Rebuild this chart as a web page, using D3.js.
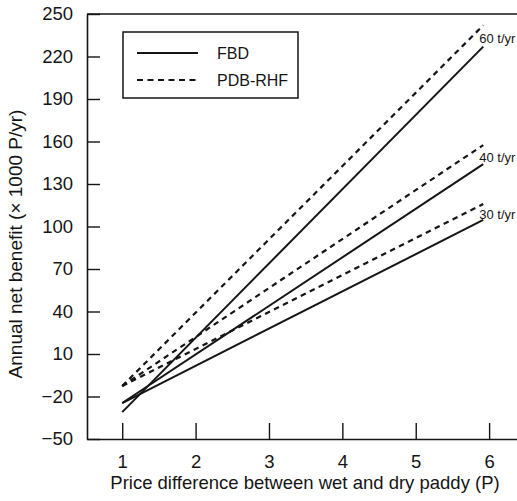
<!DOCTYPE html>
<html>
<head>
<meta charset="utf-8">
<script src="https://cdn.jsdelivr.net/npm/d3@7"></script>
<style>
  html, body { margin: 0; padding: 0; background: #fff; }
  svg { display: block; font-family: "Liberation Sans", Arial, Helvetica, sans-serif; }
</style>
</head>
<body>
<svg id="chart" width="517" height="501"></svg>
<script>
// Annual net benefit of the two dryer types vs. wet/dry paddy price difference
const capacities = ["60 t/yr", "40 t/yr", "30 t/yr"];
const priceRange = [1, 5.92];               // P, start and end of each line
const fbdValues = [[-31, 227], [-24.6, 144], [-24.6, 104.6]];     // × 1000 P/yr
const pdbValues = [[-12.6, 242], [-12.6, 157.5], [-12.6, 115.9]]; // × 1000 P/yr
const xTicks = [1, 2, 3, 4, 5, 6];
const yTicks = [-50, -20, 10, 40, 70, 100, 130, 160, 190, 220, 250];
const legendLabels = ["FBD", "PDB-RHF"];

const svg = d3.select("#chart");
const ink = "#151515";

const x = d3.scaleLinear().domain([0.52, 6.38]).range([87, 517]);
const y = d3.scaleLinear().domain([-50, 250]).range([439, 14]);

// Axes with inward ticks
const yAxis = d3.axisLeft(y).tickValues(yTicks).tickFormat(d3.format("d"))
  .tickSizeInner(-13).tickSizeOuter(0).tickPadding(14);
const xAxis = d3.axisBottom(x).tickValues(xTicks).tickFormat(d3.format("d"))
  .tickSizeInner(-16).tickSizeOuter(0).tickPadding(16);

const gy = svg.append("g").attr("transform", `translate(${x.range()[0]},0)`).call(yAxis);
const gx = svg.append("g").attr("transform", `translate(0,${y.range()[0]})`).call(xAxis);

[gx, gy].forEach(g => {
  g.select(".domain").attr("stroke", ink).attr("stroke-width", 1.6);
  g.selectAll(".tick line").attr("stroke", ink).attr("stroke-width", 1.4);
  g.selectAll(".tick text").attr("fill", ink).attr("font-size", 18.5)
    .attr("font-family", "'Liberation Sans', Arial, sans-serif");
});

// Top frame line
svg.append("line")
  .attr("x1", x.range()[0]).attr("x2", x.range()[1])
  .attr("y1", y(250)).attr("y2", y(250))
  .attr("stroke", ink).attr("stroke-width", 1.6);

// Lines
const line = d3.line().x(d => x(d[0])).y(d => y(d[1]));
const toPts = v => [[priceRange[0], v[0]], [priceRange[1], v[1]]];

svg.append("g").selectAll("path.fbd").data(fbdValues).join("path")
  .attr("class", "fbd")
  .attr("d", v => line(toPts(v)))
  .attr("fill", "none").attr("stroke", ink).attr("stroke-width", 2);

svg.append("g").selectAll("path.pdb").data(pdbValues).join("path")
  .attr("class", "pdb")
  .attr("d", v => line(toPts(v)))
  .attr("fill", "none").attr("stroke", ink).attr("stroke-width", 2.2)
  .attr("stroke-dasharray", "5.5,4.5");

// Capacity labels at the line ends
svg.append("g").selectAll("text").data(capacities).join("text")
  .attr("x", x(priceRange[1]) - 4)
  .attr("y", (d, i) => (y(fbdValues[i][1]) + y(pdbValues[i][1])) / 2)
  .attr("dy", "0.55em")
  .attr("font-size", 13)
  .attr("fill", ink)
  .text(d => d);

// Legend
const lg = svg.append("g");
lg.append("rect")
  .attr("x", 123).attr("y", 32).attr("width", 175).attr("height", 66)
  .attr("fill", "#fff").attr("stroke", ink).attr("stroke-width", 1.5);
legendLabels.forEach((name, i) => {
  const ly = 53 + i * 27;
  lg.append("line")
    .attr("x1", 137).attr("x2", 198).attr("y1", ly).attr("y2", ly)
    .attr("stroke", ink).attr("stroke-width", i === 0 ? 2 : 2.2)
    .attr("stroke-dasharray", i === 0 ? null : "6,4.5");
  lg.append("text")
    .attr("x", 217).attr("y", ly).attr("dy", "0.36em")
    .attr("font-size", 16).attr("fill", ink)
    .text(name);
});

// Axis titles
svg.append("text")
  .attr("x", 305).attr("y", 489)
  .attr("text-anchor", "middle")
  .attr("font-size", 18.5).attr("fill", ink)
  .text("Price difference between wet and dry paddy (P)");

svg.append("text")
  .attr("transform", "translate(22,244) rotate(-90)")
  .attr("text-anchor", "middle")
  .attr("font-size", 19).attr("fill", ink)
  .text("Annual net benefit (× 1000 P/yr)");
</script>
</body>
</html>
